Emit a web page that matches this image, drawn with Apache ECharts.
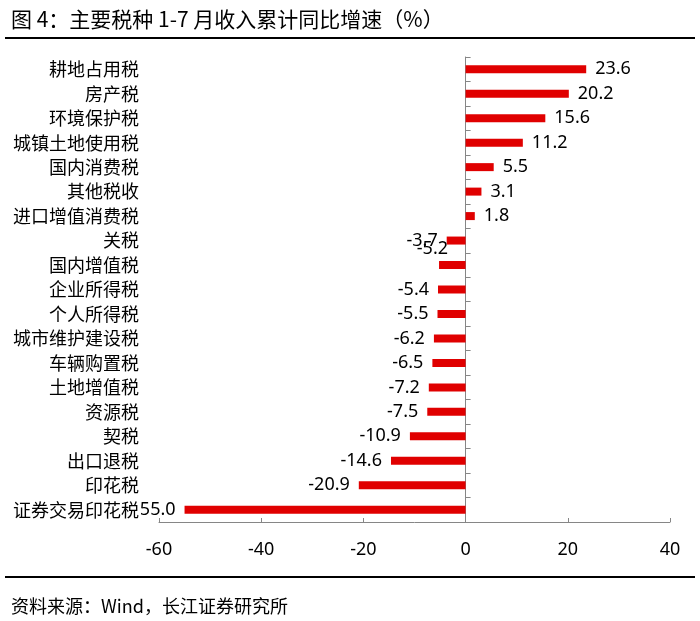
<!DOCTYPE html>
<html>
<head>
<meta charset="utf-8">
<script src="https://cdn.jsdelivr.net/npm/echarts@6/dist/echarts.min.js"></script>
<style>
html,body{margin:0;padding:0;background:#fff;}
#c{width:700px;height:621px;}
</style>
</head>
<body>
<div id="c"></div>
<script>
const categories = ['耕地占用税','房产税','环境保护税','城镇土地使用税','国内消费税','其他税收','进口增值消费税','关税','国内增值税','企业所得税','个人所得税','城市维护建设税','车辆购置税','土地增值税','资源税','契税','出口退税','印花税','证券交易印花税'];
const values = [23.6,20.2,15.6,11.2,5.5,3.1,1.8,-3.7,-5.2,-5.4,-5.5,-6.2,-6.5,-7.2,-7.5,-10.9,-14.6,-20.9,-55.0];
const xTicks = [-60,-40,-20,0,20,40];

const FONT = '"Noto Sans", "Noto Sans CJK SC", sans-serif';
const CJK = '"Noto Sans CJK SC", "Noto Sans", sans-serif';

const chart = echarts.init(document.getElementById('c'), null, {renderer:'canvas'});

const data = values.map((v, i) => {
  const item = {
    value: v,
    label: { position: v >= 0 ? 'right' : 'left' }
  };
  if (categories[i] === '国内增值税') {
    item.label.offset = [18, -16];
  }
  return item;
});

chart.setOption({
  animation: false,
  backgroundColor: '#fff',
  title: [
    {
      text: '图 4：主要税种 1-7 月收入累计同比增速（%）',
      left: 6, top: 4,
      textStyle: { fontFamily: CJK, fontSize: 21, fontWeight: 'normal', color: '#000' }
    },
    {
      text: '资料来源：Wind，长江证券研究所',
      left: 6, top: 592,
      textStyle: { fontFamily: CJK, fontSize: 18, fontWeight: 'normal', color: '#000' }
    }
  ],
  graphic: [
    { type: 'line', shape: { x1: 5, y1: 38, x2: 695, y2: 38 }, style: { stroke: '#000', lineWidth: 2 } },
    { type: 'line', shape: { x1: 5, y1: 577, x2: 695, y2: 577 }, style: { stroke: '#000', lineWidth: 2 } }
  ],
  grid: { left: 159, right: 30, top: 57, bottom: 99, containLabel: false },
  xAxis: {
    type: 'value',
    min: xTicks[0], max: xTicks[xTicks.length - 1], interval: 20,
    axisLine: { show: true, onZero: false, lineStyle: { color: '#868686', width: 1 } },
    axisTick: { show: true, inside: true, length: 4, lineStyle: { color: '#868686' } },
    splitLine: { show: false },
    axisLabel: { fontFamily: FONT, fontSize: 18, color: '#000', margin: 19 }
  },
  yAxis: [
    {
      type: 'category', inverse: true, data: categories, position: 'left',
      axisLine: { show: false, onZero: false }, axisTick: { show: false },
      axisLabel: { fontFamily: CJK, fontSize: 18, color: '#000', margin: 18, backgroundColor: '#fff', padding: [0, 2, 0, 0] },
      z: 20
    },
    {
      type: 'category', inverse: true, data: categories, position: 'left',
      axisLine: { show: true, onZero: true, onZeroAxisIndex: 0, lineStyle: { color: '#868686', width: 1 } },
      axisTick: { show: true, inside: true, length: 5, lineStyle: { color: '#868686' } },
      axisLabel: { show: false }
    }
  ],
  series: [{
    type: 'bar',
    yAxisIndex: 0,
    data: data,
    barWidth: 8,
    itemStyle: { color: '#E00000' },
    label: {
      show: true, distance: 9,
      fontFamily: FONT, fontSize: 18, color: '#000',
      formatter: p => Number(p.value).toFixed(1)
    }
  }]
});
</script>
</body>
</html>
